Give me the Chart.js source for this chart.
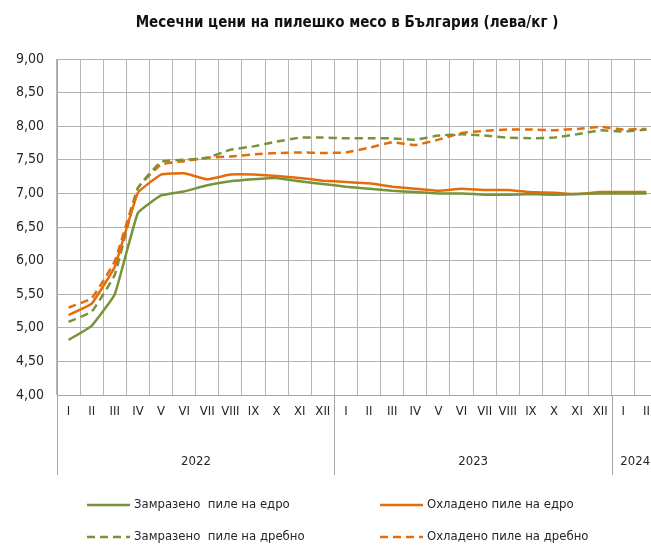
<!DOCTYPE html>
<html>
<head>
<meta charset="utf-8">
<script src="https://cdn.jsdelivr.net/npm/chart.js@4.4.1/dist/chart.umd.min.js"></script>
<style>
html, body { margin: 0; padding: 0; overflow: hidden; background: #fff; }
#wrap { position: relative; width: 660px; height: 547px; }
</style>
</head>
<body>
<div id="wrap"><canvas id="chart"></canvas></div>
<script>
"use strict";

var FONT = "'Liberation Sans Narrow', 'Arial Narrow', 'DejaVu Sans Condensed', sans-serif";

var chartTitle = "Месечни цени на пилешко месо в България (лева/кг )";
var months = ["I", "II", "III", "IV", "V", "VI", "VII", "VIII", "IX", "X", "XI", "XII",
              "I", "II", "III", "IV", "V", "VI", "VII", "VIII", "IX", "X", "XI", "XII",
              "I", "II"];
var yearLabels = ["2022", "2023", "2024"];
var yearMonths = [12, 12, 2];

var frozenWholesale = [4.82, 5.03, 5.50, 6.71, 6.97, 7.03, 7.12, 7.18, 7.21, 7.23, 7.18, 7.14,
                       7.10, 7.07, 7.04, 7.02, 7.00, 7.00, 6.98, 6.98, 6.99, 6.98, 6.99, 7.00,
                       7.00, 7.00];
var chilledWholesale = [5.19, 5.36, 5.91, 7.01, 7.28, 7.30, 7.21, 7.28, 7.28, 7.26, 7.23, 7.19,
                        7.17, 7.15, 7.10, 7.07, 7.04, 7.07, 7.05, 7.05, 7.02, 7.01, 6.99, 7.02,
                        7.02, 7.02];
var frozenRetail = [5.09, 5.24, 5.79, 7.08, 7.47, 7.50, 7.53, 7.65, 7.70, 7.77, 7.83, 7.83,
                    7.82, 7.82, 7.82, 7.80, 7.86, 7.88, 7.86, 7.83, 7.82, 7.83, 7.88, 7.94,
                    7.92, 7.95];
var chilledRetail = [5.30, 5.44, 5.99, 7.08, 7.43, 7.48, 7.53, 7.55, 7.58, 7.60, 7.61, 7.60,
                     7.61, 7.68, 7.76, 7.72, 7.80, 7.90, 7.93, 7.95, 7.95, 7.94, 7.96, 7.99,
                     7.95, 7.96];

var seriesNames = ["Замразено  пиле на едро", "Охладено пиле на едро",
                   "Замразено  пиле на дребно", "Охладено пиле на дребно"];

var green = "#77933c";
var orange = "#e46c0a";
var dash = [8, 5];

function line(label, data, color, dashed) {
    return {
        label: label,
        data: data,
        borderColor: color,
        backgroundColor: color,
        borderWidth: 2.5,
        borderDash: dashed ? dash : [],
        pointRadius: 0,
        tension: 0.1,
        fill: false
    };
}

var extras = {
    id: "extras",
    afterDraw: function(chart) {
        var ctx = chart.ctx;
        var x = chart.scales.x;
        var area = chart.chartArea;
        var half = (x.getPixelForValue(1) - x.getPixelForValue(0)) / 2;
        ctx.save();

        ctx.fillStyle = "#111";
        ctx.font = "bold 15px " + FONT;
        ctx.textAlign = "center";
        ctx.textBaseline = "middle";
        ctx.fillText(chartTitle, 347, 23);

        // year groups under the month labels
        ctx.strokeStyle = "#a6a6a6";
        ctx.lineWidth = 1;
        ctx.font = "13px " + FONT;
        ctx.fillStyle = "#262626";
        var start = 0;
        for (var i = 0; i < yearLabels.length; i++) {
            var left = Math.round(x.getPixelForValue(start) - half) + 0.5;
            var right = x.getPixelForValue(start + yearMonths[i] - 1) + half;
            ctx.beginPath();
            ctx.moveTo(left, area.bottom);
            ctx.lineTo(left, area.bottom + 80);
            ctx.stroke();
            ctx.fillText(yearLabels[i], (left + right) / 2, area.bottom + 67);
            start += yearMonths[i];
        }

        // legend, two columns
        var sets = chart.data.datasets;
        var spots = [[87, 505], [380, 505], [87, 537], [380, 537]];
        ctx.textAlign = "left";
        for (var j = 0; j < sets.length; j++) {
            var sx = spots[j][0], sy = spots[j][1];
            ctx.strokeStyle = sets[j].borderColor;
            ctx.lineWidth = 2.5;
            ctx.setLineDash(sets[j].borderDash);
            ctx.beginPath();
            ctx.moveTo(sx, sy);
            ctx.lineTo(sx + 43, sy);
            ctx.stroke();
            ctx.setLineDash([]);
            ctx.fillStyle = "#262626";
            ctx.fillText(sets[j].label, sx + 47, sy);
        }
        ctx.restore();
    }
};

new Chart(document.getElementById("chart"), {
    type: "line",
    data: {
        labels: months,
        datasets: [
            line(seriesNames[0], frozenWholesale, green, false),
            line(seriesNames[1], chilledWholesale, orange, false),
            line(seriesNames[2], frozenRetail, green, true),
            line(seriesNames[3], chilledRetail, orange, true)
        ]
    },
    options: {
        responsive: true,
        maintainAspectRatio: false,
        animation: false,
        layout: {
            padding: { top: 59, right: 2, bottom: 72, left: 0 }
        },
        scales: {
            x: {
                offset: true,
                grid: {
                    offset: true,
                    color: "#b4b4b4",
                    lineWidth: 1,
                    drawTicks: false
                },
                border: { color: "#a6a6a6" },
                ticks: {
                    autoSkip: false,
                    maxRotation: 0,
                    padding: 9,
                    color: "#262626",
                    font: { family: FONT, size: 13 }
                },
                afterFit: function(scale) { scale.height = 80; }
            },
            y: {
                min: 4,
                max: 9,
                grid: {
                    color: "#b4b4b4",
                    lineWidth: 1,
                    drawTicks: false
                },
                border: { color: "#a6a6a6" },
                ticks: {
                    stepSize: 0.5,
                    padding: 13,
                    color: "#262626",
                    font: { family: FONT, size: 14 },
                    callback: function(v) { return v.toFixed(2).replace(".", ","); }
                },
                afterFit: function(scale) { scale.width = 57; }
            }
        },
        plugins: {
            legend: { display: false },
            title: { display: false },
            tooltip: { enabled: false }
        }
    },
    plugins: [extras]
});
</script>
</body>
</html>
